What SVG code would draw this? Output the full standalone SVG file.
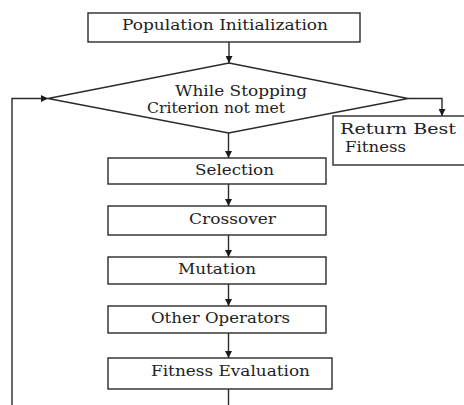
<svg xmlns="http://www.w3.org/2000/svg" width="464" height="405" viewBox="0 0 464 405">
<style>
.box{fill:#fff;stroke:#2a2a2a;stroke-width:1.4}
.t{font-family:"DejaVu Serif","Liberation Serif",serif;font-size:14.5px;fill:#222}
.c{fill:none;stroke:#2a2a2a;stroke-width:1.4}
</style>
<defs>
<marker id="ah" viewBox="0 0 10 10" refX="10" refY="5" markerWidth="7" markerHeight="7" markerUnits="userSpaceOnUse" orient="auto">
<path d="M0,0 L10,5 L0,10 z" fill="#1a1a1a"/>
</marker>
</defs>
<rect width="464" height="405" fill="#fff"/>
<g id="connectors">
<line class="c" x1="229" y1="42" x2="229" y2="63" marker-end="url(#ah)"/>
<line class="c" x1="228.5" y1="133" x2="228.5" y2="158" marker-end="url(#ah)"/>
<line class="c" x1="228.5" y1="184" x2="228.5" y2="206" marker-end="url(#ah)"/>
<line class="c" x1="228.5" y1="235" x2="228.5" y2="257" marker-end="url(#ah)"/>
<line class="c" x1="228.5" y1="284" x2="228.5" y2="306" marker-end="url(#ah)"/>
<line class="c" x1="228.5" y1="333" x2="228.5" y2="358" marker-end="url(#ah)"/>
<line class="c" x1="228.5" y1="389" x2="228.5" y2="405"/>
<polyline class="c" points="12,405 12,98.5 48,98.5" marker-end="url(#ah)"/>
<polyline class="c" points="408,98.5 442,98.5 442,116" marker-end="url(#ah)"/>
</g>
<g id="n-init">
<rect class="box" x="88" y="13" width="272" height="29"/>
<text class="t" x="122" y="30" textLength="206" lengthAdjust="spacingAndGlyphs">Population Initialization</text>
</g>
<g id="n-while">
<polygon class="box" points="229,63 408,98.5 228.5,133 48,98.5"/>
<text class="t" x="175" y="96" textLength="132" lengthAdjust="spacingAndGlyphs">While Stopping</text>
<text class="t" x="147" y="113" textLength="138" lengthAdjust="spacingAndGlyphs">Criterion not met</text>
</g>
<g id="n-return">
<rect class="box" x="333" y="116" width="135" height="49"/>
<text class="t" x="340" y="134" textLength="116" lengthAdjust="spacingAndGlyphs">Return Best</text>
<text class="t" x="345" y="152" textLength="61" lengthAdjust="spacingAndGlyphs">Fitness</text>
</g>
<g id="n-selection">
<rect class="box" x="108" y="158" width="218" height="26"/>
<text class="t" x="195" y="175" textLength="79" lengthAdjust="spacingAndGlyphs">Selection</text>
</g>
<g id="n-crossover">
<rect class="box" x="108" y="206" width="218" height="29"/>
<text class="t" x="189" y="224" textLength="87" lengthAdjust="spacingAndGlyphs">Crossover</text>
</g>
<g id="n-mutation">
<rect class="box" x="108" y="257" width="218" height="27"/>
<text class="t" x="178" y="274" textLength="78" lengthAdjust="spacingAndGlyphs">Mutation</text>
</g>
<g id="n-other">
<rect class="box" x="108" y="306" width="218" height="27"/>
<text class="t" x="151" y="323" textLength="139" lengthAdjust="spacingAndGlyphs">Other Operators</text>
</g>
<g id="n-fitness">
<rect class="box" x="108" y="358" width="224" height="31"/>
<text class="t" x="151" y="376" textLength="159" lengthAdjust="spacingAndGlyphs">Fitness Evaluation</text>
</g>
</svg>
